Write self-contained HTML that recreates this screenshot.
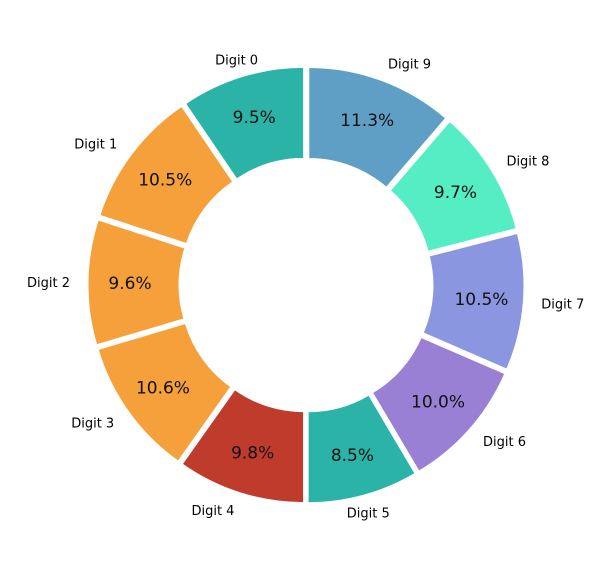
<!DOCTYPE html>
<html><head><meta charset="utf-8"><style>
html,body{margin:0;padding:0;background:#fff;}
svg{display:block;font-family:"DejaVu Sans","Liberation Sans",sans-serif;}
</style></head><body>
<svg id="chart" width="611" height="566"></svg>
<script>
const categories = ["Digit 0","Digit 1","Digit 2","Digit 3","Digit 4","Digit 5","Digit 6","Digit 7","Digit 8","Digit 9"];
const values = [9.5,10.5,9.6,10.6,9.8,8.5,10.0,10.5,9.7,11.3];
const pctLabels = ["9.5%","10.5%","9.6%","10.6%","9.8%","8.5%","10.0%","10.5%","9.7%","11.3%"];
const colors = ["#2bb3a8","#f5a03a","#f5a03a","#f5a03a","#bf3b2c","#2bb3a8","#9a80d4","#8b96e0","#55eec4","#5f9fc6"];

const svg = document.getElementById('chart');
const NS = "http://www.w3.org/2000/svg";
const cx = 306, cy = 285, R = 210, rin = 119, off = 8;
const total = values.reduce((a,b)=>a+b,0);
let start = 90;
function pt(r, a, ox, oy){ const t = a*Math.PI/180; return [ox + r*Math.cos(t), oy - r*Math.sin(t)]; }
values.forEach((v,i)=>{
  const sweep = v/total*360;
  const end = start + sweep;
  const mid = (start+end)/2;
  const [ox, oy] = pt(off, mid, cx, cy);
  const p1 = pt(R, start, ox, oy), p2 = pt(R, end, ox, oy), p3 = pt(rin, end, ox, oy), p4 = pt(rin, start, ox, oy);
  const large = sweep > 180 ? 1 : 0;
  const path = document.createElementNS(NS,'path');
  path.setAttribute('d', `M${p1[0]},${p1[1]} A${R},${R} 0 ${large} 0 ${p2[0]},${p2[1]} L${p3[0]},${p3[1]} A${rin},${rin} 0 ${large} 1 ${p4[0]},${p4[1]} Z`);
  path.setAttribute('fill', colors[i]);
  path.setAttribute('stroke', '#fff');
  path.setAttribute('stroke-width', '1');
  
  
  svg.appendChild(path);

  const pp = pt(168, mid, ox, oy);
  const pt1 = document.createElementNS(NS,'text');
  pt1.setAttribute('x', pp[0]); pt1.setAttribute('y', pp[1] + 6);
  pt1.setAttribute('text-anchor','middle'); pt1.setAttribute('font-size','17');
  pt1.setAttribute('fill','#111');
  pt1.textContent = pctLabels[i];
  
  
  svg.appendChild(pt1);

  const c = Math.cos(mid*Math.PI/180);
  const lp = pt(228, mid, ox, oy);
  const lt = document.createElementNS(NS,'text');
  lt.setAttribute('x', lp[0]); lt.setAttribute('y', lp[1] + 5);
  lt.setAttribute('text-anchor', c < -0.3 ? 'end' : (c > 0.3 ? 'start' : 'middle'));
  lt.setAttribute('font-size','13');
  lt.setAttribute('fill','#000');
  lt.textContent = categories[i];
  
  
  svg.appendChild(lt);
  start = end;
});
</script>
</body></html>
